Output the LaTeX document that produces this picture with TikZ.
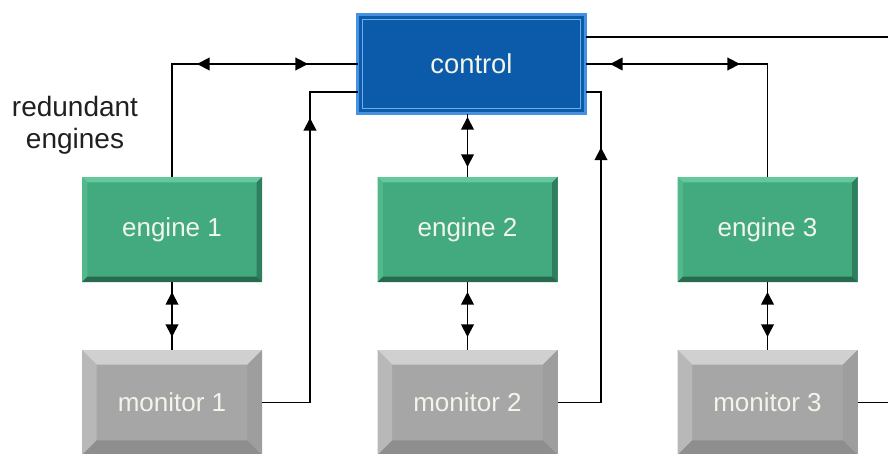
\documentclass[tikz,border=0pt]{standalone}
\usepackage{fontspec}
\setmainfont{Liberation Sans}
\usetikzlibrary{arrows.meta,decorations.markings}
\definecolor{engmain}{HTML}{43AA80}
\definecolor{engtop}{HTML}{64C89D}
\definecolor{engleft}{HTML}{52B88C}
\definecolor{engright}{HTML}{2F7E5D}
\definecolor{engbot}{HTML}{286A4E}
\definecolor{monmain}{HTML}{A6A6A6}
\definecolor{montop}{HTML}{D0D0D0}
\definecolor{monleft}{HTML}{B8B8B8}
\definecolor{monright}{HTML}{9E9E9E}
\definecolor{monbot}{HTML}{8E8E8E}
\definecolor{ctrlfill}{HTML}{0C5BAA}
\definecolor{ctrlglow}{HTML}{4593E0}
\definecolor{ctrlline}{HTML}{6BB0EC}
\definecolor{boxtext}{HTML}{F2F5EA}
\definecolor{labeltext}{HTML}{202020}
\newcommand\bevelbox[6]{%
  \fill[#3] (#1.north west) -- (#1.north east) -- ([shift={(-#2,-#2)}]#1.north east) -- ([shift={(#2,-#2)}]#1.north west) -- cycle;
  \fill[#4] (#1.north west) -- ([shift={(#2,-#2)}]#1.north west) -- ([shift={(#2,#2)}]#1.south west) -- (#1.south west) -- cycle;
  \fill[#5] (#1.north east) -- ([shift={(-#2,-#2)}]#1.north east) -- ([shift={(-#2,#2)}]#1.south east) -- (#1.south east) -- cycle;
  \fill[#6] (#1.south west) -- ([shift={(#2,#2)}]#1.south west) -- ([shift={(-#2,#2)}]#1.south east) -- (#1.south east) -- cycle;
}
\tikzset{
  boxbase/.style={minimum width=135pt, minimum height=78.75pt, inner sep=0pt, outer sep=0pt,
    text=boxtext, font=\fontsize{19.5}{23}\selectfont},
  engbox/.style={boxbase, fill=engmain},
  monbox/.style={boxbase, fill=monmain},
  ctrlbox/.style={minimum width=171pt, minimum height=74.25pt, inner sep=0pt, outer sep=0pt,
    fill=ctrlfill, draw=ctrlglow, line width=2.25pt, text=boxtext, font=\fontsize{20.5}{24}\selectfont},
  conn/.style={draw=black, line width=1.4pt},
  fwd/.style={postaction={decorate,decoration={markings,mark=at position #1 with {\arrow{Triangle[length=9.5pt,width=9.5pt]}}}}},
  bwd/.style={postaction={decorate,decoration={markings,mark=at position #1 with {\arrowreversed{Triangle[length=9.5pt,width=9.5pt]}}}}},
}
\begin{document}
\begin{tikzpicture}[x=0.75pt,y=-0.75pt]
\useasboundingbox (0,0) rectangle (888,453);
\clip (0,0) rectangle (888,453);

% nodes
\node[ctrlbox] (ctrl) at (471.5,64) {control};
\draw[ctrlline, line width=0.75pt] ([shift={(3.5pt,-3.5pt)}]ctrl.north west) rectangle ([shift={(-3.5pt,3.5pt)}]ctrl.south east);

\node[engbox] (e1) at (172,229.5) {engine 1};
\node[engbox] (e2) at (467.5,229.5) {engine 2};
\node[engbox] (e3) at (767.5,229.5) {engine 3};
\bevelbox{e1}{4pt}{engtop}{engleft}{engright}{engbot}
\bevelbox{e2}{4pt}{engtop}{engleft}{engright}{engbot}
\bevelbox{e3}{4pt}{engtop}{engleft}{engright}{engbot}

\node[monbox] (m1) at (172,402.5) {monitor 1};
\node[monbox] (m2) at (467.5,402.5) {monitor 2};
\node[monbox] (m3) at (767.5,402.5) {monitor 3};
\bevelbox{m1}{11pt}{montop}{monleft}{monright}{monbot}
\bevelbox{m2}{11pt}{montop}{monleft}{monright}{monbot}
\bevelbox{m3}{11pt}{montop}{monleft}{monright}{monbot}

\node[text=labeltext, align=center, font=\fontsize{21}{24}\selectfont] (lbl) at (75,125) {redundant\\engines};

% free ends and corners
\coordinate (topout) at (888,37);
\coordinate (m3out) at (888,402.5);
\coordinate (j1) at (310,92);
\coordinate (j2) at (601,92);

% control <-> engine 1
\draw[conn, fwd=120.4pt, bwd=37.1pt] (ctrl.west) -| (e1.north);
% control <-> engine 3
\draw[conn, bwd=18.4pt, fwd=115.9pt] (ctrl.east) -| (e3.north);
% control top right line
\draw[conn] (ctrl.east |- topout) -- (topout);
% control <-> engine 2
\draw[conn, fwd=45pt, bwd=7.5pt] (e2.north) -- (e2.north |- ctrl.south);
% engine <-> monitor
\draw[conn, bwd=7.5pt, fwd=41.25pt] (e1.south) -- (m1.north);
\draw[conn, bwd=7.5pt, fwd=41.25pt] (e2.south) -- (m2.north);
\draw[conn, bwd=7.5pt, fwd=41.25pt] (e3.south) -- (m3.north);
% monitors -> control
\draw[conn, fwd=249.4pt] (m1.east) -| (j1) -- (j1 -| ctrl.west);
\draw[conn, fwd=223.9pt] (m2.east) -| (j2) -- (j2 -| ctrl.east);
\draw[conn] (m3.east) -- (m3out);
\end{tikzpicture}
\end{document}
